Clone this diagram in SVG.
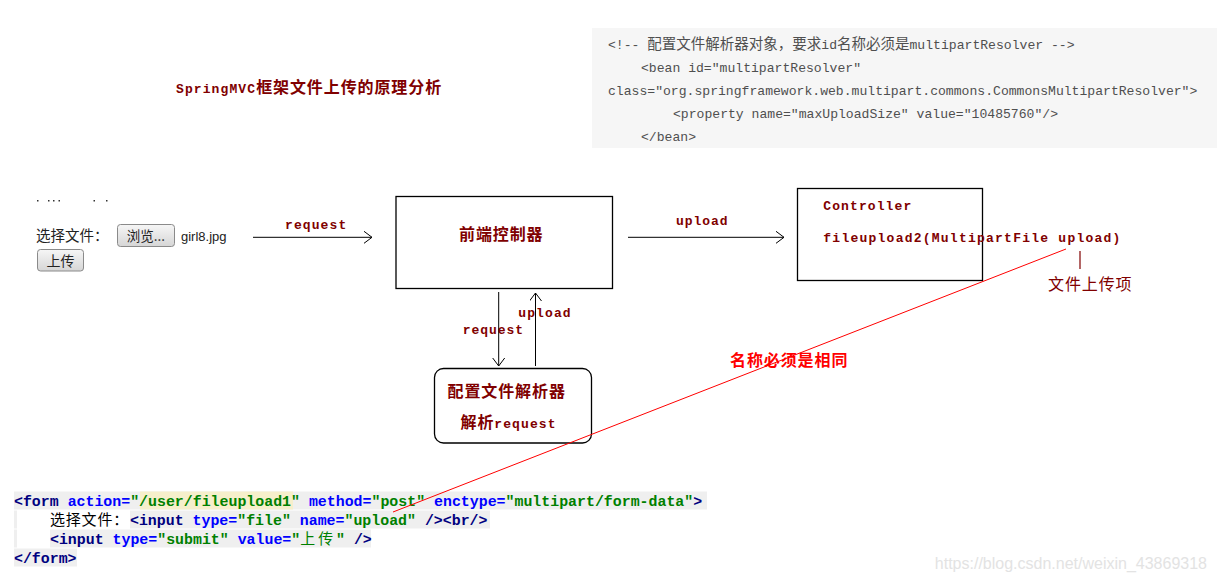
<svg xmlns="http://www.w3.org/2000/svg" width="1217" height="582" viewBox="0 0 1217 582">
<defs>
<style>
.lb{font-family:"Liberation Mono","DejaVu Sans Mono",monospace;font-weight:bold;font-size:13px;fill:#800000;letter-spacing:1.1px}
.cj{font-family:"Noto Sans CJK SC",sans-serif;font-size:16px;letter-spacing:0.9px;fill:#800000}
.b{font-weight:bold}
.box{fill:#fff;stroke:#000;stroke-width:1.3}
.conn{stroke:#000;stroke-width:1;fill:none}
.xml{font-family:"Liberation Mono","DejaVu Sans Mono",monospace;font-size:13.1px;fill:#4f4f4f}
.xcj{font-family:"Noto Sans CJK SC",sans-serif;font-size:14.5px}
.code{font-family:"Liberation Mono","DejaVu Sans Mono",monospace;font-size:14.9px;font-weight:bold}
.tg{fill:#000080}.at{fill:#0000ff}.vl{fill:#008000}
.row{fill:#efefef}
.ui{font-family:"Noto Sans CJK SC",sans-serif;font-size:14.5px;fill:#222}
.btn{fill:url(#bg);stroke:#8a8a8a;stroke-width:1}
</style>
<linearGradient id="bg" x1="0" y1="0" x2="0" y2="1">
<stop offset="0" stop-color="#f6f6f6"/><stop offset="1" stop-color="#d6d6d6"/>
</linearGradient>
<marker id="ah" markerUnits="userSpaceOnUse" markerWidth="12" markerHeight="14" refX="8" refY="6" orient="auto">
<path d="M0,0 L8,6 L0,12" fill="none" stroke="#000" stroke-width="1"/>
</marker>
</defs>
<rect width="1217" height="582" fill="#fff"/>

<g id="title">
<text x="176" y="93" class="lb">SpringMVC<tspan class="cj" style="letter-spacing:0.9px">框架文件上传的原理分析</tspan></text>
</g>

<g id="xml-config">
<rect x="592" y="28" width="625" height="120" fill="#f6f6f6"/>
<text x="608" y="48.5" class="xml">&lt;!-- <tspan class="xcj">配置文件解析器对象，要求</tspan>id<tspan class="xcj">名称必须是</tspan>multipartResolver --&gt;</text>
<text x="641" y="71.5" class="xml">&lt;bean id="multipartResolver"</text>
<text x="608" y="94.5" class="xml">class="org.springframework.web.multipart.commons.CommonsMultipartResolver"&gt;</text>
<text x="673" y="117.5" class="xml">&lt;property name="maxUploadSize" value="10485760"/&gt;</text>
<text x="641" y="140.5" class="xml">&lt;/bean&gt;</text>
</g>

<g id="upload-form-ui">
<g fill="#333">
<rect x="37" y="200" width="1.5" height="1.5"/><rect x="48" y="200" width="1.5" height="1.5"/><rect x="53" y="200" width="1.5" height="1.5"/><rect x="58.5" y="200" width="1.5" height="1.5"/><rect x="93.5" y="200" width="1.5" height="1.5"/><rect x="106" y="200" width="1.5" height="1.5"/>
</g>
<text x="36" y="241" class="ui">选择文件：</text>
<rect x="117.5" y="224.5" width="57" height="22" rx="3" class="btn"/>
<text x="146" y="241" class="ui" text-anchor="middle" style="font-size:13.5px">浏览...</text>
<text x="181" y="241" style="font-family:'Liberation Sans',Arial,sans-serif;font-size:13px;fill:#222">girl8.jpg</text>
<rect x="37.5" y="249.5" width="46" height="21.5" rx="3" class="btn"/>
<text x="60.5" y="266" class="ui" text-anchor="middle" style="font-size:14px">上传</text>
</g>

<g id="front-controller">
<rect x="396" y="196.5" width="216.5" height="92" class="box"/>
<text x="459" y="240" class="cj b">前端控制器</text>
</g>

<g id="controller">
<rect x="797.5" y="188.5" width="185" height="92" class="box" style="fill:none"/>
<text x="823.3" y="210" class="lb">Controller</text>
<text x="823.3" y="241.5" class="lb" style="letter-spacing:1.24px">fileupload2(MultipartFile upload)</text>
</g>

<g id="resolver">
<rect x="434.5" y="368.5" width="157" height="74.5" rx="9" class="box"/>
<text x="447.5" y="397" class="cj b">配置文件解析器</text>
<text x="460.5" y="428" class="lb"><tspan class="cj b">解析</tspan>request</text>
</g>

<g id="upload-item-label">
<text x="1048" y="290" class="cj">文件上传项</text>
</g>

<g id="same-name-label">
<text x="730" y="366" class="cj b" style="fill:#ff0000">名称必须是相同</text>
</g>

<g id="form-code">
<rect x="14" y="491.5" width="693" height="18" class="row"/>
<rect x="140" y="491.5" width="153" height="18" fill="#f6efcb"/>
<rect x="14" y="510.5" width="3" height="18" class="row"/>
<rect x="130" y="510.5" width="360" height="18" class="row"/>
<rect x="14" y="529.5" width="3" height="18" class="row"/>
<rect x="50" y="529.5" width="321" height="18" class="row"/>
<rect x="14" y="548.5" width="63" height="18" class="row"/>
<text x="14" y="505.5" class="code"><tspan class="tg">&lt;form </tspan><tspan class="at">action=</tspan><tspan class="vl">"/user/fileupload1"</tspan><tspan class="at"> method=</tspan><tspan class="vl">"post"</tspan><tspan class="at"> enctype=</tspan><tspan class="vl">"multipart/form-data"</tspan><tspan class="tg">&gt;</tspan></text>
<text x="50" y="524.5" style="font-family:'Noto Sans CJK SC',sans-serif;font-size:15px;letter-spacing:0.8px;fill:#000">选择文件：</text>
<text x="130" y="524.5" class="code"><tspan class="tg">&lt;input</tspan><tspan class="at"> type=</tspan><tspan class="vl">"file"</tspan><tspan class="at"> name=</tspan><tspan class="vl">"upload"</tspan><tspan class="tg"> /&gt;&lt;br/&gt;</tspan></text>
<text x="50" y="543.5" class="code"><tspan class="tg">&lt;input</tspan><tspan class="at"> type=</tspan><tspan class="vl">"submit"</tspan><tspan class="at"> value=</tspan><tspan class="vl">"<tspan style="font-family:'Noto Sans CJK SC',sans-serif;letter-spacing:3px;font-weight:normal">上传</tspan>"</tspan><tspan class="tg"> /&gt;</tspan></text>
<text x="14" y="562.5" class="code"><tspan class="tg">&lt;/form&gt;</tspan></text>
</g>

<g id="connectors">
<line x1="253" y1="237.3" x2="372" y2="237.3" class="conn" marker-end="url(#ah)"/>
<text x="285" y="229" class="lb">request</text>
<line x1="628" y1="237.3" x2="784" y2="237.3" class="conn" marker-end="url(#ah)"/>
<text x="676" y="225" class="lb" style="letter-spacing:0.95px">upload</text>
<line x1="498.7" y1="292" x2="498.7" y2="366" class="conn" marker-end="url(#ah)"/>
<text x="462.7" y="334" class="lb" style="letter-spacing:0.95px">request</text>
<line x1="535.5" y1="366" x2="535.5" y2="293" class="conn" marker-end="url(#ah)"/>
<text x="518.3" y="317" class="lb">upload</text>
<line x1="1080" y1="251" x2="1080" y2="269" stroke="#800000" stroke-width="1.2"/>
<line x1="1066" y1="249" x2="393" y2="512" stroke="#ff0000" stroke-width="1"/>
</g>

<text x="1207" y="569" text-anchor="end" style="font-family:'Liberation Sans',Arial,sans-serif;font-size:16px;fill:#e3e3e3">https://blog.csdn.net/weixin_43869318</text>
</svg>
